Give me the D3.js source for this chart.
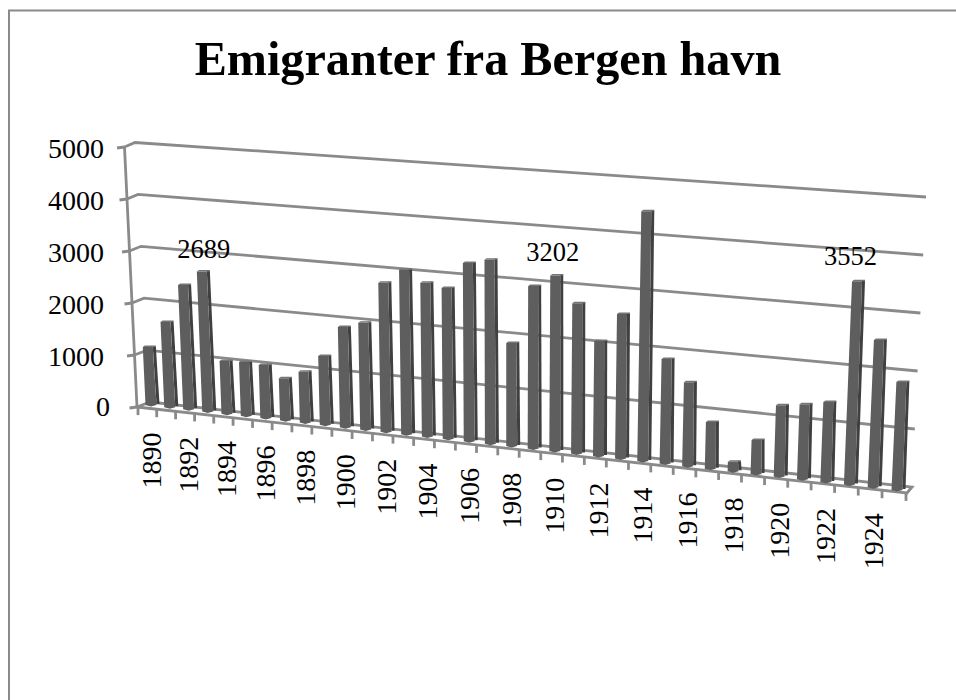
<!DOCTYPE html>
<html><head><meta charset="utf-8">
<script src="https://cdn.jsdelivr.net/npm/d3@7"></script>
<style>
html,body{margin:0;padding:0;background:#fff}
svg{display:block}
text{font-family:"Liberation Serif",serif;fill:#000}
</style></head><body>
<svg id="c" width="956" height="700"></svg>
<script>
const chartTitle = "Emigranter fra Bergen havn";
const years = d3.range(1890, 1926);
const emigrants = [1124,1643,2395,2689,1010,1030,1010,800,960,1300,1885,2000,2785,3065,2855,2795,3290,3385,1890,2975,3202,2730,2085,2610,4495,1875,1500,835,170,600,1260,1320,1400,3552,2565,1875];
const valueTicks = [0,1000,2000,3000,4000,5000];
const yearLabels = years.filter((d,i)=>i%2===0);
const annotated = [1893,1910,1923];

const svg = d3.select("#c");
const lerp = d3.interpolateNumber;
const GREY = "#8a8a8a";

// perspective stretches the category axis
const K = 124.67;
const barX = d3.scalePow().exponent(2).domain([K, K+35]).range([151, 897]);
const tickX = d3.scalePow().exponent(2).domain([K, K+36]).range([138, 906]);
const xOf = y => barX(y-1890+K);
const uOf = d3.scaleLinear().domain([151,897]).range([0,1]);
const v01 = d3.scaleLinear().domain([0,5000]).range([0,1]);

const base = x => lerp(405,490)(uOf(x));
const span = x => lerp(258,288)(uOf(x));
const lean = x => lerp(-12,13)(uOf(x));
const pt = (y,v,dx=0) => { const x=xOf(y), t=v01(v); return [x+dx+lean(x)*t, base(x)-span(x)*t]; };

// corners of walls
const frontLeft = v => { const t=v01(v); return [lerp(137,124.5)(t), lerp(407,147)(t)]; };
const backLeft  = v => { const t=v01(v); return [lerp(150,135)(t), lerp(402,142.5)(t)]; };
const backRight = v => { const t=v01(v); return [lerp(912,926)(t), lerp(487,197)(t)]; };
const frontEdge = x => lerp(407,493)((x-137)/(907-137));

const line = d3.line();

// chart frame
svg.append("path").attr("d", line([[9,700],[9,10.5],[956,10.5]]))
  .attr("fill","none").attr("stroke",GREY).attr("stroke-width",2);

svg.append("text").attr("x",488).attr("y",75).attr("text-anchor","middle")
  .style("font-size","48.2px").style("font-weight","bold").text(chartTitle);

const g = svg.append("g").attr("fill","none").attr("stroke",GREY).attr("stroke-width",2.8);
// gridlines + side wall
g.selectAll(".grid").data(valueTicks.filter(d=>d>0)).join("path").attr("class","grid")
  .attr("d", v=>line([frontLeft(v),backLeft(v),backRight(v)]));
// y axis + ticks
g.append("path").attr("d", line([frontLeft(5000),frontLeft(0)]));
g.selectAll(".yt").data(valueTicks).join("path").attr("class","yt")
  .attr("d", v=>{const p=frontLeft(v); return line([[p[0]-7.5,p[1]+1],p]);});
// floor
g.append("path").attr("d", line([frontLeft(0),backLeft(0),backRight(0),[907,493],frontLeft(0)]));
// x ticks
g.selectAll(".xt").data(d3.range(0,37)).join("path").attr("class","xt")
  .attr("d", i=>{const x=tickX(i+K), y=frontEdge(x); return line([[x,y],[x,y+8]]);});

// bars
const W=5.5, D=3;
const bars = svg.append("g").selectAll("g").data(years).join("g");
bars.append("path").attr("fill","#404040")
  .attr("d",(y,i)=>line([pt(y,emigrants[i],W-1),pt(y,emigrants[i],W+D-1),pt(y,0,W+D),pt(y,0,W)])+"Z")
  .attr("transform","translate(0,-1)");
bars.append("path").attr("fill","#5e5e5e")
  .attr("d",(y,i)=>line([pt(y,emigrants[i],-W),pt(y,emigrants[i],W-1),pt(y,0,W),[pt(y,0,0)[0],pt(y,0,0)[1]+1.5],pt(y,0,-W)])+"Z");
bars.append("path").attr("fill","#757575")
  .attr("d",(y,i)=>{const a=pt(y,emigrants[i],-W),b=pt(y,emigrants[i],W-1);
    return line([a,[a[0]+2,a[1]-1.5],[b[0]+D,b[1]-1.5],[b[0]+D,b[1]],b])+"Z";});

// y labels
svg.append("g").selectAll("text").data(valueTicks).join("text")
  .attr("x",v=>v===0?110:104).attr("y",v=>frontLeft(v)[1]+(v===0?9:11))
  .attr("text-anchor","end").style("font-size","28px").text(d=>d);

// x labels
svg.append("g").selectAll("text").data(yearLabels).join("text")
  .attr("text-anchor","end").attr("dominant-baseline","central").style("font-size","28px")
  .attr("transform",y=>{const x=xOf(y); return `translate(${x},${frontEdge(x)+24}) rotate(-90)`;})
  .text(d=>d);

// annotated values
svg.append("g").selectAll("text").data(annotated).join("text")
  .attr("text-anchor","middle").style("font-size","26.5px")
  .attr("x",y=>xOf(y)+(y===1893?-4:y===1910?-2:1))
  .attr("y",y=>({1893:258,1910:261,1923:265})[y])
  .text(y=>emigrants[years.indexOf(y)]);
</script>
</body></html>
